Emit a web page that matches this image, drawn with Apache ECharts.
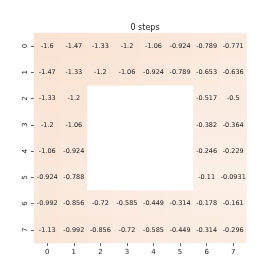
<!DOCTYPE html>
<html><head><meta charset="utf-8">
<script src="https://cdn.jsdelivr.net/npm/echarts@6/dist/echarts.min.js"></script>
<style>html,body{margin:0;padding:0;background:#fff}#c{width:274px;height:274px}</style>
</head><body><div id="c"></div>
<script>
const xCats = ['0','1','2','3','4','5','6','7'];
const yCats = ['0','1','2','3','4','5','6','7'];
const row0 = [-1.6, -1.47, -1.33, -1.2, -1.06, -0.924, -0.789, -0.771];
const row1 = [-1.47, -1.33, -1.2, -1.06, -0.924, -0.789, -0.653, -0.636];
const row2 = [-1.33, -1.2, null, null, null, null, -0.517, -0.5];
const row3 = [-1.2, -1.06, null, null, null, null, -0.382, -0.364];
const row4 = [-1.06, -0.924, null, null, null, null, -0.246, -0.229];
const row5 = [-0.924, -0.788, null, null, null, null, -0.11, -0.0931];
const row6 = [-0.992, -0.856, -0.72, -0.585, -0.449, -0.314, -0.178, -0.161];
const row7 = [-1.13, -0.992, -0.856, -0.72, -0.585, -0.449, -0.314, -0.296];
const rows = [row0,row1,row2,row3,row4,row5,row6,row7];
const data = [];
rows.forEach((r,yi)=>r.forEach((v,xi)=>{ if(v!==null) data.push([xi,yi,v]); }));
const chart = echarts.init(document.getElementById('c'));
const font = 'DejaVu Sans';
chart.setOption({
  animation:false,
  title:{text:'0 steps',left:140,top:19,textAlign:'center',textStyle:{fontSize:8,fontWeight:'normal',color:'#222',fontFamily:font}},
  grid:{left:34,top:33,width:212.5,height:210},
  xAxis:{type:'category',data:xCats,axisLine:{show:false},splitArea:{show:false},
    axisTick:{show:true,alignWithLabel:true,length:3,lineStyle:{color:'#333',width:0.8}},
    axisLabel:{fontSize:7,color:'#222',margin:6,fontFamily:font}},
  yAxis:{type:'category',data:yCats,inverse:true,axisLine:{show:false},
    axisTick:{show:true,alignWithLabel:true,length:3,lineStyle:{color:'#333',width:0.8}},
    axisLabel:{fontSize:7,color:'#222',margin:5,rotate:90,fontFamily:font}},
  visualMap:{show:false,min:-1.6,max:-0.0931,dimension:2,inRange:{color:['#f9e3d4','#fcefe6']}},
  series:[{type:'heatmap',data:data,
    label:{show:true,fontSize:6.5,color:'#222',fontFamily:font,formatter:p=>String(p.value[2])},
    itemStyle:{borderWidth:0}}]
});
</script></body></html>
